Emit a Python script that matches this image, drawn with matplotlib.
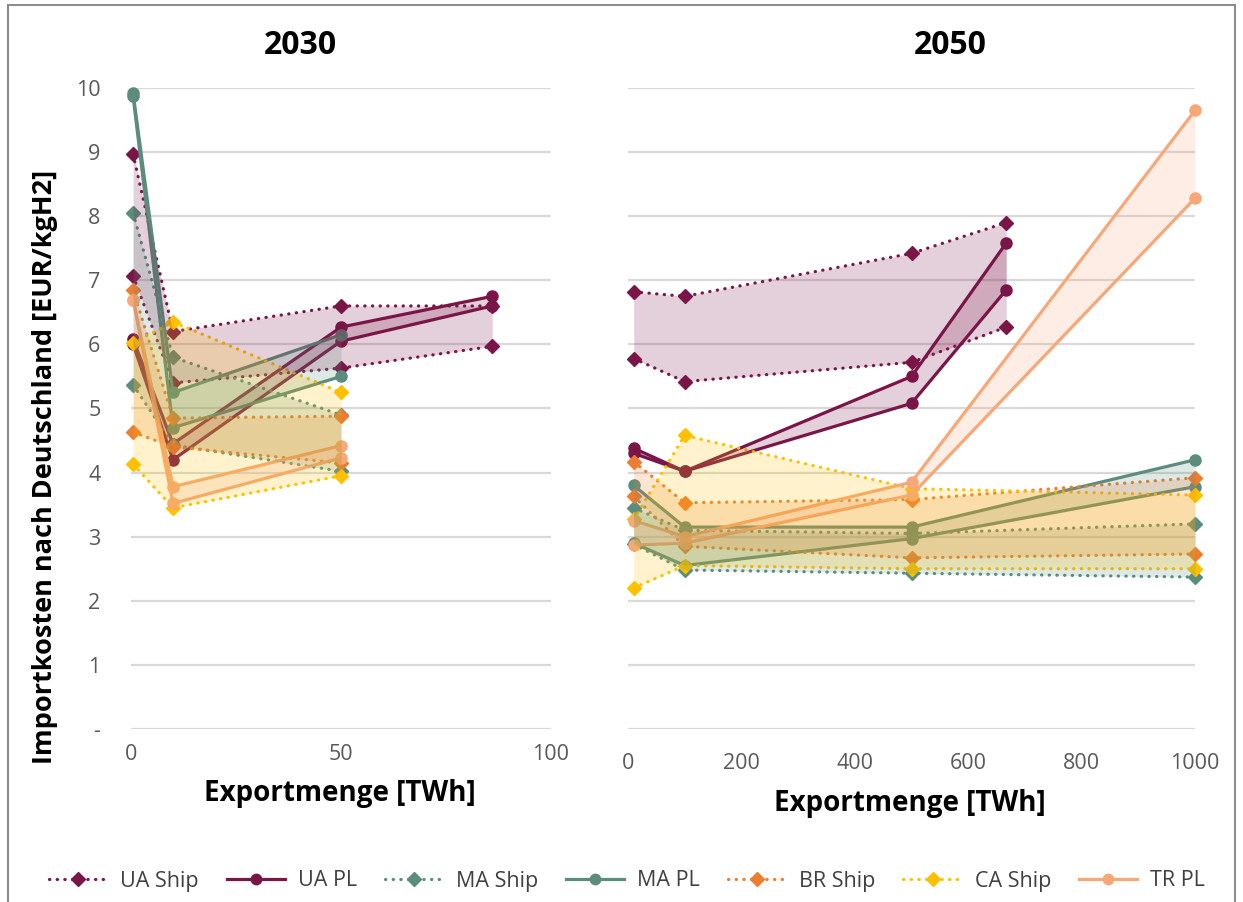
import matplotlib
matplotlib.use("Agg")
import matplotlib.pyplot as plt
from matplotlib.lines import Line2D
from matplotlib.patches import Rectangle

plt.rcParams['font.family'] = ['Open Sans', 'DejaVu Sans']

# Exportmengen [TWh]
x30 = [0.5, 10, 50, 86]          # UA 2030
x30_short = [0.5, 10, 50]        # andere Länder 2030
x50_ua = [10, 100, 500, 667]     # UA 2050
x50 = [10, 100, 500, 1000]       # andere Länder 2050

# 2030 - Importkosten [EUR/kgH2], jeweils obere/untere Linie
ua_ship_30_hi = [8.97, 6.20, 6.60, 6.60]
ua_ship_30_lo = [7.07, 5.40, 5.63, 5.97]
ua_pl_30_hi = [6.08, 4.45, 6.27, 6.75]
ua_pl_30_lo = [6.00, 4.20, 6.05, 6.60]
ma_ship_30_hi = [8.05, 5.80, 4.90]
ma_ship_30_lo = [5.37, 4.43, 4.02]
ma_pl_30_hi = [9.92, 5.25, 6.15]
ma_pl_30_lo = [9.87, 4.70, 5.50]
br_ship_30_hi = [6.85, 4.85, 4.88]
br_ship_30_lo = [4.63, 4.40, 4.15]
ca_ship_30_hi = [6.02, 6.35, 5.25]
ca_ship_30_lo = [4.13, 3.45, 3.95]
tr_pl_30_hi = [6.70, 3.78, 4.42]
tr_pl_30_lo = [6.70, 3.52, 4.23]

# 2050
ua_ship_50_hi = [6.82, 6.75, 7.42, 7.90]
ua_ship_50_lo = [5.78, 5.42, 5.72, 6.27]
ua_pl_50_hi = [4.38, 4.02, 5.50, 7.58]
ua_pl_50_lo = [4.30, 4.02, 5.08, 6.85]
ma_ship_50_hi = [3.45, 3.10, 3.05, 3.20]
ma_ship_50_lo = [2.88, 2.48, 2.43, 2.37]
ma_pl_50_hi = [3.80, 3.15, 3.15, 4.20]
ma_pl_50_lo = [2.90, 2.55, 2.97, 3.78]
br_ship_50_hi = [4.17, 3.53, 3.58, 3.92]
br_ship_50_lo = [3.63, 2.85, 2.67, 2.73]
ca_ship_50_hi = [3.27, 4.58, 3.75, 3.65]
ca_ship_50_lo = [2.20, 2.55, 2.50, 2.50]
tr_pl_50_hi = [3.25, 3.00, 3.85, 9.65]
tr_pl_50_lo = [2.87, 2.90, 3.65, 8.28]

labels = ['UA Ship', 'UA PL', 'MA Ship', 'MA PL', 'BR Ship', 'CA Ship', 'TR PL']
colors = {
    'UA': '#7a1548',
    'MA': '#5b8c7c',
    'BR': '#ed7d31',
    'CA': '#ffc000',
    'TR': '#f7a878',
}
y_ticks = [0, 1, 2, 3, 4, 5, 6, 7, 8, 9, 10]
y_ticklabels = ['-', '1', '2', '3', '4', '5', '6', '7', '8', '9', '10']

DOT = (0, (0.1, 2.3))
W, H = 1243, 902


def style(kind, color):
    if kind == 'Ship':
        return dict(color=color, ls=DOT, lw=2.3, marker='D', ms=7.5,
                    dash_capstyle='round')
    return dict(color=color, ls='-', lw=2.3, marker='o', ms=8)


def band(ax, x, hi, lo, kind, color):
    """Zwei Linien plus Fläche dazwischen"""
    st = style(kind, color)
    ax.plot(x, hi, clip_on=False, zorder=2, **st)
    ax.plot(x, lo, clip_on=False, zorder=2, **st)
    ax.fill_between(x, lo, hi, color=color, alpha=0.2, lw=0, zorder=3)


fig = plt.figure(figsize=(12.43, 9.02), dpi=100)

ax1 = fig.add_axes([131 / W, 1 - 729 / H, 420 / W, 641 / H])
ax2 = fig.add_axes([628 / W, 1 - 729 / H, 567 / W, 641 / H])

# 2030
band(ax1, x30, ua_ship_30_hi, ua_ship_30_lo, 'Ship', colors['UA'])
band(ax1, x30, ua_pl_30_hi, ua_pl_30_lo, 'PL', colors['UA'])
band(ax1, x30_short, ma_ship_30_hi, ma_ship_30_lo, 'Ship', colors['MA'])
band(ax1, x30_short, ma_pl_30_hi, ma_pl_30_lo, 'PL', colors['MA'])
band(ax1, x30_short, br_ship_30_hi, br_ship_30_lo, 'Ship', colors['BR'])
band(ax1, x30_short, ca_ship_30_hi, ca_ship_30_lo, 'Ship', colors['CA'])
band(ax1, x30_short, tr_pl_30_hi, tr_pl_30_lo, 'PL', colors['TR'])

# 2050
band(ax2, x50_ua, ua_ship_50_hi, ua_ship_50_lo, 'Ship', colors['UA'])
band(ax2, x50_ua, ua_pl_50_hi, ua_pl_50_lo, 'PL', colors['UA'])
band(ax2, x50, ma_ship_50_hi, ma_ship_50_lo, 'Ship', colors['MA'])
band(ax2, x50, ma_pl_50_hi, ma_pl_50_lo, 'PL', colors['MA'])
band(ax2, x50, br_ship_50_hi, br_ship_50_lo, 'Ship', colors['BR'])
band(ax2, x50, ca_ship_50_hi, ca_ship_50_lo, 'Ship', colors['CA'])
band(ax2, x50, tr_pl_50_hi, tr_pl_50_lo, 'PL', colors['TR'])

for ax in (ax1, ax2):
    ax.set_ylim(0, 10)
    ax.set_yticks(y_ticks)
    ax.grid(axis='y', color='#d9d9d9', lw=1.6, zorder=0)
    ax.set_axisbelow(True)
    for s in ax.spines.values():
        s.set_visible(False)
    ax.tick_params(length=0, labelsize=15.5, labelcolor='#595959')

ax1.set_xlim(0, 100)
ax1.set_xticks([0, 50, 100])
ax1.set_yticklabels(y_ticklabels)
ax1.tick_params(axis='x', pad=11)
ax1.tick_params(axis='y', pad=22)

ax2.set_xlim(0, 1000)
ax2.set_xticks([0, 200, 400, 600, 800, 1000])
ax2.set_yticklabels([])
ax2.tick_params(axis='x', pad=17)

# Achsentitel und Überschriften
fig.text(340 / W, 1 - 793 / H, 'Exportmenge [TWh]', fontsize=20,
         fontweight='bold', ha='center', va='center')
fig.text(910 / W, 1 - 803 / H, 'Exportmenge [TWh]', fontsize=20,
         fontweight='bold', ha='center', va='center')
fig.text(45 / W, 1 - 467 / H, 'Importkosten nach Deutschland [EUR/kgH2]',
         fontsize=19.5, fontweight='bold', rotation=90, ha='center', va='center')
fig.text(300 / W, 1 - 45 / H, '2030', fontsize=23, fontweight='bold',
         ha='center', va='center')
fig.text(950 / W, 1 - 45 / H, '2050', fontsize=23, fontweight='bold',
         ha='center', va='center')

# Legende
handles = []
for lab in labels:
    land, kind = lab.split()
    st = style(kind, colors[land])
    st['ms'] = st['ms'] - 0.5
    handles.append(Line2D([0], [0], **st))
fig.legend(handles, labels, loc='center', bbox_to_anchor=(627 / W, 21 / H),
           ncol=7, frameon=False, fontsize=15.5, handlelength=2.7,
           columnspacing=1.3, handletextpad=0.6, labelcolor='#404040')

# Rahmen
fig.add_artist(Rectangle((8 / W, -0.02), 1227 / W, 1.02 - 5 / H,
                         transform=fig.transFigure, fill=False,
                         ec='#8c8c8c', lw=1.5))

fig.savefig('out.png', dpi=100)
